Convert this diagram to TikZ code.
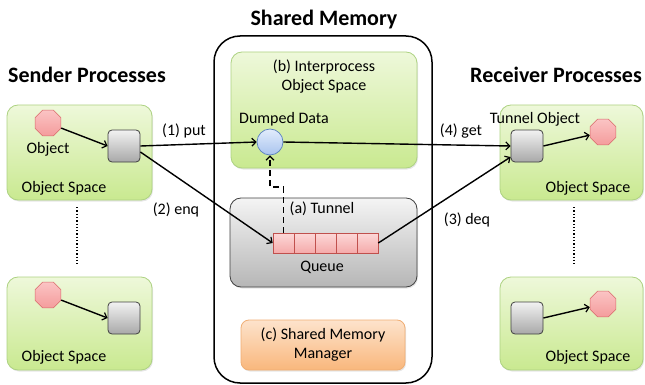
\documentclass[tikz,border=0pt]{standalone}
\usepackage{fontspec}
\setmainfont{Carlito}
\usetikzlibrary{arrows.meta,shapes.geometric,shadows}
\definecolor{grnT}{HTML}{EEF8DA}
\definecolor{grnBt}{HTML}{C9E990}
\definecolor{grnBd}{HTML}{ADD282}
\definecolor{redT}{HTML}{FBC4C4}
\definecolor{redF}{HTML}{F49C9C}
\definecolor{redBd}{HTML}{D86A6A}
\definecolor{gryT}{HTML}{F2F2F2}
\definecolor{gryBt}{HTML}{A8A8A8}
\definecolor{gryBd}{HTML}{404040}
\definecolor{bluT}{HTML}{E2ECFC}
\definecolor{bluBt}{HTML}{A9C4EE}
\definecolor{bluBd}{HTML}{5A82C0}
\definecolor{qT}{HTML}{FCD8D8}
\definecolor{qBt}{HTML}{F5AAAA}
\definecolor{qBd}{HTML}{C0504D}
\definecolor{tnT}{HTML}{F4F4F4}
\definecolor{tnBt}{HTML}{B6B6B6}
\definecolor{orT}{HTML}{FDE3CC}
\definecolor{orBt}{HTML}{F9B77C}
\definecolor{orBd}{HTML}{F0AE74}
\begin{document}
\begin{tikzpicture}[x=1pt,y=-1pt,
  font=\fontsize{16}{19}\selectfont,
  lbl/.style={inner sep=0pt, align=center},
  title/.style={inner sep=0pt, font=\fontsize{22}{24}\selectfont\bfseries},
  ospace/.style={draw=grnBd, line width=0.8pt, rounded corners=11pt, top color=grnT, bottom color=grnBt,
    drop shadow={opacity=0.2, shadow xshift=1pt, shadow yshift=-1.5pt}},
  obj/.style={regular polygon, regular polygon sides=8, minimum size=28pt, inner sep=0pt,
    draw=redBd, line width=0.6pt, top color=redT, bottom color=redF},
  handle/.style={rectangle, rounded corners=4pt, minimum size=32pt, inner sep=0pt,
    draw=gryBd, line width=0.8pt, top color=gryT, bottom color=gryBt},
  qcell/.style={rectangle, minimum width=21pt, minimum height=20pt, inner sep=0pt,
    draw=qBd, line width=0.6pt, top color=qT, bottom color=qBt},
  conn/.style={line width=1.4pt, -{Straight Barb[length=4pt,width=8pt,line width=1.2pt]}},
  dashconn/.style={line width=1.4pt, dash pattern=on 6pt off 4pt, -{Straight Barb[length=4pt,width=8pt,line width=1.2pt]}},
  dots/.style={line width=1.3pt, dotted},
]
\useasboundingbox (0,0) rectangle (645,385);

% titles
\node[title] (tS) at (87,75) {Sender Processes};
\node[title, anchor=west] (tR) at (470,75) {Receiver Processes};
\node[title] (tM) at (324,20) {Shared Memory};

% shared memory frame
\node[draw=black, line width=1.5pt, rounded corners=26pt, minimum width=218pt, minimum height=347pt] (SM) at (323,209.5) {};

% interprocess object space
\node[ospace, minimum width=186pt, minimum height=116pt] (IP) at (324,110) {};
\node[lbl] (IPt) at (324,76.5) {(b) Interprocess\\Object Space};
\node[lbl] (DDt) at (284,119) {Dumped Data};
\node[circle, minimum size=26pt, inner sep=0pt, draw=bluBd, line width=0.7pt, top color=bluT, bottom color=bluBt] (dd) at (270,142) {};

% tunnel
\node[draw=gryBd, line width=0.8pt, rounded corners=11pt, top color=tnT, bottom color=tnBt,
  minimum width=187pt, minimum height=89pt,
  drop shadow={opacity=0.2, shadow xshift=1pt, shadow yshift=-1.5pt}] (TN) at (323.5,242.5) {};
\node[lbl] (TNt) at (322,209) {(a) Tunnel};
\node[qcell] (q1) at (283.5,243) {};
\node[qcell] (q2) at (304.5,243) {};
\node[qcell] (q3) at (325.5,243) {};
\node[qcell] (q4) at (346.5,243) {};
\node[qcell] (q5) at (367.5,243) {};
\node[lbl] (Qt) at (322,267) {Queue};

% manager
\node[draw=orBd, line width=0.8pt, rounded corners=8pt, top color=orT, bottom color=orBt,
  minimum width=164pt, minimum height=50pt,
  drop shadow={opacity=0.2, shadow xshift=1pt, shadow yshift=-1.5pt}] (MG) at (323,345) {};
\node[lbl] (MGt) at (323,344.5) {(c) Shared Memory\\Manager};

% sender spaces
\node[ospace, minimum width=145pt, minimum height=95pt] (L1) at (79.5,152.5) {};
\node[ospace, minimum width=145pt, minimum height=93pt] (L2) at (79.5,323.5) {};
\node[obj] (oL1) at (48,123) {};
\node[lbl] (oL1t) at (48,149) {Object};
\node[handle] (sL1) at (124,146) {};
\node[lbl] (L1t) at (64,188) {Object Space};
\node[obj] (oL2) at (48,295) {};
\node[handle] (sL2) at (124,318) {};
\node[lbl] (L2t) at (64,357) {Object Space};

% receiver spaces
\node[ospace, minimum width=143pt, minimum height=95pt] (R1) at (571.5,152.5) {};
\node[ospace, minimum width=143pt, minimum height=93pt] (R2) at (571.5,323.5) {};
\node[handle] (sR1) at (527,146) {};
\node[obj] (oR1) at (603,132) {};
\node[lbl] (sR1t) at (535,119) {Tunnel Object};
\node[lbl] (R1t) at (588,188) {Object Space};
\node[handle] (sR2) at (527,318) {};
\node[obj] (oR2) at (603,304) {};
\node[lbl] (R2t) at (588,357) {Object Space};

% dotted separators
\coordinate (dL1) at (77,207);
\coordinate (dL2) at (77,264);
\coordinate (dR1) at (574,207);
\coordinate (dR2) at (574,264);
\draw[dots] (dL1) -- (dL2);
\draw[dots] (dR1) -- (dR2);

% inner arrows
\draw[conn] (oL1) -- (sL1.west);
\draw[conn] (oL2) -- (sL2.west);
\draw[conn] (sR1.east) -- (oR1);
\draw[conn] (sR2.east) -- (oR2);

% main arrows
\draw[conn] (sL1.east) -- (dd.west);
\draw[conn] ([yshift=-6pt]sL1.east) -- (q1.west);
\draw[conn] (dd.east) -- (sR1.west);
\draw[conn] (q5.east) -- ([yshift=-11pt]sR1.west);
\coordinate (elb) at (276,187);
\draw[dashconn] (q1.north) -- (q1.north |- elb) -| (dd.south);

% arrow labels
\node[lbl] (l1) at (184,131) {(1) put};
\node[lbl] (l2) at (176,210) {(2) enq};
\node[lbl] (l4) at (461,131) {(4) get};
\node[lbl] (l3) at (467,220) {(3) deq};
\end{tikzpicture}
\end{document}
